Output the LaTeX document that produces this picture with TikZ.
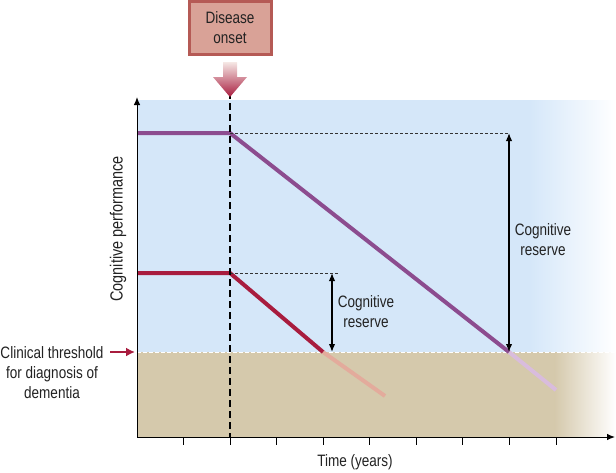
\documentclass[tikz,border=0pt]{standalone}
\usepackage{fontspec}
\setmainfont{Liberation Sans}[FakeStretch=0.82]
\usepackage{xcolor}
\usetikzlibrary{arrows.meta,calc}

\definecolor{skyfill}{HTML}{D5E7F9}
\definecolor{sandfill}{HTML}{D5C9AC}
\definecolor{plum}{HTML}{8C4C8F}
\definecolor{plumfade}{HTML}{D9BCDD}
\definecolor{crimson}{HTML}{A81C3E}
\definecolor{crimsonfade}{HTML}{E3AB9C}
\definecolor{onsetfill}{HTML}{D9A297}
\definecolor{onsetdraw}{HTML}{B55A55}
\definecolor{textgrey}{HTML}{222222}

\begin{document}
\begin{tikzpicture}[
  x=1pt, y=-1pt,
  font=\fontsize{16.5}{20}\selectfont,
  >={Latex[length=8pt,width=6.5pt]},
  lbl/.style={align=center, text=textgrey, inner sep=0pt},
  axis/.style={->, line width=1pt},
  curve/.style={line width=4pt, line join=round},
  guide/.style={dashed, dash pattern=on 3pt off 2pt, line width=0.6pt, black!80},
  reserve/.style={<->, line width=1.4pt},
  onset/.style={draw=onsetdraw, line width=3pt, fill=onsetfill, minimum width=82pt, minimum height=53pt, lbl}
]
\useasboundingbox (0,0) rectangle (616,472);

\fill[skyfill] (137,100) rectangle (530,352);
\shade[left color=skyfill, right color=white] (529.5,100) rectangle (616,352);
\fill[sandfill] (137,352) rectangle (555,437);
\shade[left color=sandfill, right color=white] (554.5,352) rectangle (616,437);

\coordinate (orig) at (137,437);
\coordinate (ytip) at (137,97);
\coordinate (xtip) at (615,437);
\coordinate (thl) at (137,352);
\coordinate (thr) at (616,352);
\coordinate (onbot) at (230,437);
\coordinate (ontop) at (230,92);

\coordinate (pstart) at (137,133);
\coordinate (pbend) at (230,133);
\coordinate (pcross) at (509,352);
\coordinate (pend) at (556,390);
\coordinate (ptop) at (509,133);

\coordinate (rstart) at (137,273);
\coordinate (rbend) at (230,273);
\coordinate (rcross) at (323,352);
\coordinate (rend) at (385,396);
\coordinate (rguide) at (338,273);
\coordinate (rtop) at (332,273);
\coordinate (rbot) at (332,352);

\draw[white, dashed, dash pattern=on 4pt off 2pt, line width=1pt] (thl) -- (thr);

\draw[curve, crimsonfade] (rcross) -- (rend);
\draw[curve, plumfade] (pcross) -- (pend);
\draw[curve, crimson] (rstart) -- (rbend) -- (rcross);
\draw[curve, plum] (pstart) -- (pbend) -- (pcross);

\draw[guide] (pbend) -- (ptop);
\draw[guide] (rbend) -- (rguide);

\draw[line width=2.5pt, dash pattern=on 7pt off 4pt] (ontop) -- (onbot);

\draw[reserve] (ptop) -- (pcross);
\draw[reserve] (rtop) -- (rbot);

\draw[axis] (orig) -- (ytip);
\draw[axis] (orig) -- (xtip);
\foreach \i in {1,...,9}
  \draw[line width=1pt] ($(orig)+(46.56*\i,0)$) -- ++(0,8);

\node[onset] (disease) at (230,27.5) {Disease\\onset};
\shade[top color=onsetfill!25, bottom color=crimson]
  (223,62) -- (237,62) -- (237,77) -- (247,77) -- (230,97) -- (213,77) -- (223,77) -- cycle;

\node[lbl] (bigres) at (543,240) {Cognitive\\reserve};
\node[lbl] (smallres) at (366,312) {Cognitive\\reserve};
\node[lbl] (thresh) at (52,372.5) {Clinical threshold\\for diagnosis of\\dementia};
\coordinate (thtip) at (135,352);
\coordinate (thtail) at (110,352);
\draw[->, crimson, line width=2.6pt, >={Latex[length=9pt,width=9pt]}] (thtail) -- (thtip);

\node[lbl] (time) at (355,462) {Time (years)};
\node[lbl, rotate=90, font=\fontsize{17.6}{20}\selectfont] (perf) at (118,229) {Cognitive performance};
\end{tikzpicture}
\end{document}
